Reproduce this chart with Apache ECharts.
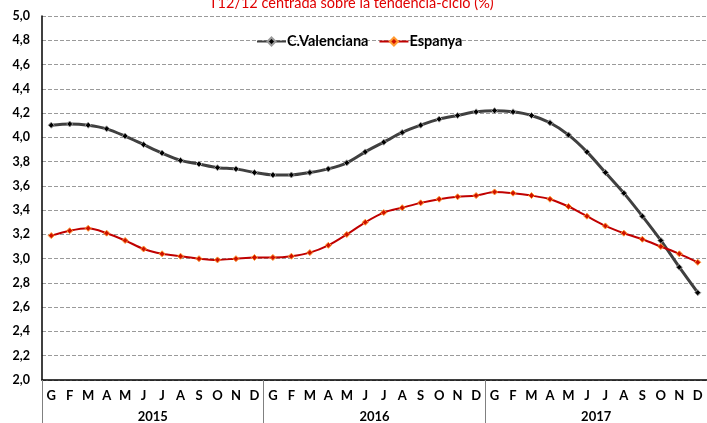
<!DOCTYPE html>
<html>
<head>
<meta charset="utf-8">
<script src="https://cdn.jsdelivr.net/npm/echarts@6/dist/echarts.min.js"></script>
<style>
  html, body { margin: 0; padding: 0; background: #fff; }
  #chart { width: 707px; height: 423px; }
</style>
</head>
<body>
<div id="chart"></div>
<script>
const months = ['G', 'F', 'M', 'A', 'M', 'J', 'J', 'A', 'S', 'O', 'N', 'D']
const years = ['2015', '2016', '2017']
// una categoria per mes (3 anys)
const categories = years.flatMap(y => months.map(m => m + '-' + y))

const valenciana = [
  4.10, 4.11, 4.10, 4.07, 4.01, 3.94, 3.87, 3.81, 3.78, 3.75, 3.74, 3.71,
  3.69, 3.69, 3.71, 3.74, 3.79, 3.88, 3.96, 4.04, 4.10, 4.15, 4.18, 4.21,
  4.22, 4.21, 4.18, 4.12, 4.02, 3.88, 3.71, 3.54, 3.35, 3.15, 2.93, 2.72
]
const espanya = [
  3.19, 3.23, 3.25, 3.21, 3.15, 3.08, 3.04, 3.02, 3.00, 2.99, 3.00, 3.01,
  3.01, 3.02, 3.05, 3.11, 3.20, 3.30, 3.38, 3.42, 3.46, 3.49, 3.51, 3.52,
  3.55, 3.54, 3.52, 3.49, 3.43, 3.35, 3.27, 3.21, 3.16, 3.10, 3.04, 2.97
]

const font = 'Lato, "Open Sans", sans-serif'

const option = {
  animation: false,
  title: {
    text: 'T12/12 centrada sobre la tendencia-ciclo (%)',
    left: 204,
    top: -9,
    textStyle: { color: '#e00000', fontSize: 14.5, fontWeight: 'normal', fontFamily: font }
  },
  legend: {
    top: 29,
    left: 251,
    itemGap: 10,
    itemWidth: 29,
    itemHeight: 10,
    textStyle: { fontSize: 14.5, fontWeight: 'bold', fontFamily: font, color: '#000', padding: [0, 0, 0, -4] },
    data: ['C.Valenciana', 'Espanya']
  },
  grid: { left: 42, right: -3, top: 16, bottom: 43 },
  xAxis: [
    {
      type: 'category',
      data: categories,
      boundaryGap: true,
      axisLine: { lineStyle: { color: '#000', width: 1.5 } },
      axisTick: { show: false },
      axisLabel: {
        interval: 0,
        margin: 9,
        formatter: v => v.split('-')[0],
        fontSize: 13, fontWeight: 'bold', fontFamily: font, color: '#000'
      }
    },
    {
      type: 'category',
      data: years,
      position: 'bottom',
      boundaryGap: true,
      axisLine: { show: false },
      axisTick: { show: true, length: 45, lineStyle: { color: '#808080', width: 1 } },
      axisLabel: {
        margin: 30,
        fontSize: 13, fontWeight: 'bold', fontFamily: font, color: '#000'
      }
    }
  ],
  yAxis: {
    type: 'value',
    min: 2.0,
    max: 5.0,
    interval: 0.2,
    axisLine: { show: true, lineStyle: { color: '#000', width: 1.5 } },
    axisTick: { show: false },
    axisLabel: {
      margin: 12,
      formatter: v => v.toFixed(1).replace('.', ','),
      fontSize: 12.5, fontWeight: 'bold', fontFamily: font, color: '#000'
    },
    splitLine: { lineStyle: { type: 'dashed', color: '#9a9a9a', width: 1 } }
  },
  series: [
    {
      name: 'C.Valenciana',
      type: 'line',
      data: valenciana,
      smooth: 0.3,
      symbol: 'diamond',
      symbolSize: 6,
      lineStyle: { color: '#404040', width: 3 },
      itemStyle: { color: '#000', borderColor: '#9a9a9a', borderWidth: 1 }
    },
    {
      name: 'Espanya',
      type: 'line',
      data: espanya,
      smooth: 0.3,
      symbol: 'diamond',
      symbolSize: 6,
      lineStyle: { color: '#c00000', width: 2 },
      itemStyle: { color: '#d01000', borderColor: '#ff9a30', borderWidth: 1 }
    }
  ]
}

const myChart = echarts.init(document.getElementById('chart'))
myChart.setOption(option)
</script>
</body>
</html>
